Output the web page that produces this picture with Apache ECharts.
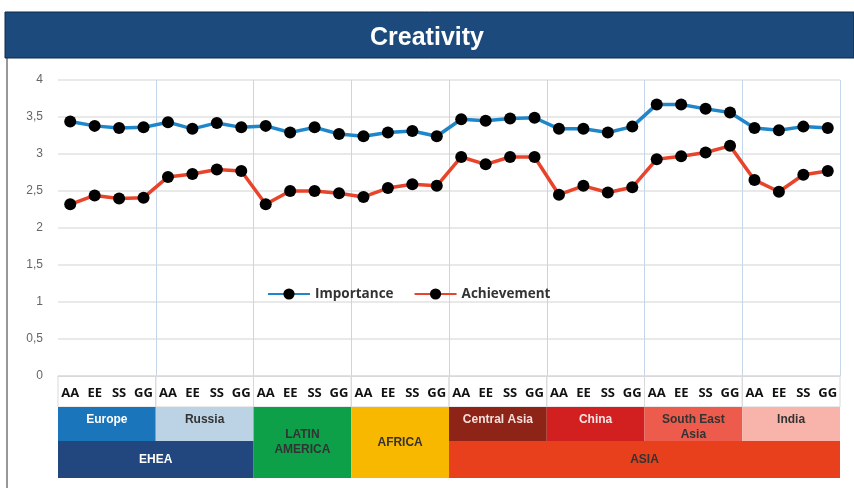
<!DOCTYPE html>
<html>
<head>
<meta charset="utf-8">
<script src="https://cdn.jsdelivr.net/npm/echarts@6/dist/echarts.min.js"></script>
<style>
  html, body { margin: 0; padding: 0; background: #fff; }
  #chart { width: 854px; height: 488px; }
</style>
</head>
<body>
<div id="chart"></div>
<script>
const categories = [
  'AA', 'EE', 'SS', 'GG', 'AA', 'EE', 'SS', 'GG',
  'AA', 'EE', 'SS', 'GG', 'AA', 'EE', 'SS', 'GG',
  'AA', 'EE', 'SS', 'GG', 'AA', 'EE', 'SS', 'GG',
  'AA', 'EE', 'SS', 'GG', 'AA', 'EE', 'SS', 'GG'
]
const importance = [
  3.44, 3.38, 3.35, 3.36, 3.43, 3.34, 3.42, 3.36,
  3.38, 3.29, 3.36, 3.27, 3.24, 3.29, 3.31, 3.24,
  3.47, 3.45, 3.48, 3.49, 3.34, 3.34, 3.29, 3.37,
  3.67, 3.67, 3.61, 3.56, 3.35, 3.32, 3.37, 3.35
]
const achievement = [
  2.32, 2.44, 2.40, 2.41, 2.69, 2.73, 2.79, 2.77,
  2.32, 2.50, 2.50, 2.47, 2.42, 2.54, 2.59, 2.57,
  2.96, 2.86, 2.96, 2.96, 2.45, 2.57, 2.48, 2.55,
  2.93, 2.97, 3.02, 3.11, 2.65, 2.49, 2.72, 2.77
]

// category table under the axis: [first index, last index, first row, last row]
const regionNames = ['Europe', 'Russia', 'LATIN\nAMERICA', 'AFRICA', 'Central Asia', 'China', 'South East\nAsia', 'India']
const regionSpans = [[0, 3, 1, 1], [4, 7, 1, 1], [8, 11, 1, 2], [12, 15, 1, 2], [16, 19, 1, 1], [20, 23, 1, 1], [24, 27, 1, 1], [28, 31, 1, 1]]
const areaNames = ['EHEA', 'ASIA']
const areaSpans = [[0, 7, 2, 2], [16, 31, 2, 2]]

const regionColors = ['#1b75bb', '#bcd3e6', '#0e9f49', '#f9b800', '#8e2417', '#d21f1f', '#ec5b4b', '#f8b3ab']
const regionText = ['#ffffff', '#333333', '#333333', '#333333', '#f4e0dc', '#f8e6e6', '#333333', '#333333']
const areaColors = ['#21477e', '#e8401d']
const areaText = ['#ffffff', '#333333']

// row edges of the table (axis units of the lower grid)
const rowEdges = [0, 0.91, 1.91, 3]

const cells = []
regionSpans.forEach((s) => cells.push({ span: [s[0], s[1], 0, 0], label: '', fill: 'rgba(0,0,0,0)', text: '#333', top: true }))
regionSpans.forEach((s, i) => cells.push({ span: s, label: regionNames[i], fill: regionColors[i], text: regionText[i], top: s[2] === s[3] }))
areaSpans.forEach((s, i) => cells.push({ span: s, label: areaNames[i], fill: areaColors[i], text: areaText[i], top: false }))

const chart = echarts.init(document.getElementById('chart'))

const renderCell = (params, api) => {
  const cell = cells[params.dataIndex]
  const bw = api.size([1, 0])[0]
  const p0 = api.coord([api.value(0), rowEdges[api.value(2)]])
  const p1 = api.coord([api.value(1), rowEdges[api.value(3) + 1]])
  const x = p0[0] - bw / 2
  const isLabelRow = cell.label === ''
  return {
    type: 'rect',
    shape: { x: x, y: p0[1], width: p1[0] + bw / 2 - x, height: p1[1] - p0[1] },
    style: isLabelRow
      ? { fill: 'rgba(0,0,0,0)', stroke: '#d9d9d9', lineWidth: 1 }
      : { fill: cell.fill },
    textContent: {
      style: {
        text: cell.label,
        fill: cell.text,
        font: 'bold 12px "Liberation Sans", Arial, sans-serif',
        align: 'center',
        lineHeight: 15
      }
    },
    textConfig: { position: cell.top ? 'insideTop' : 'inside', distance: 5 }
  }
}

const options = {
  animation: false,
  title: {
    text: 'Creativity',
    left: 'center',
    top: 21,
    textStyle: { color: '#fff', fontSize: 25, fontWeight: 'bold', fontFamily: '"Liberation Sans", Arial, sans-serif' }
  },
  graphic: [
    { type: 'rect', z: -1, shape: { x: 5, y: 12, width: 849, height: 46 }, style: { fill: '#1d4a7c', stroke: '#0f2a48', lineWidth: 1 } },
    { type: 'line', shape: { x1: 7, y1: 58, x2: 7, y2: 488 }, style: { stroke: '#333', lineWidth: 1 } }
  ],
  legend: {
    left: 262,
    top: 282,
    itemWidth: 42,
    itemHeight: 14,
    itemGap: 20,
    data: ['Importance', 'Achievement'],
    textStyle: { color: '#333', fontSize: 13.5, fontWeight: 'bold', fontFamily: '"Open Sans", sans-serif' }
  },
  grid: [
    { left: 58, right: 14, top: 80, bottom: 112 },
    { left: 58, right: 14, top: 376, bottom: 10 }
  ],
  xAxis: [
    {
      type: 'category',
      gridIndex: 0,
      data: categories,
      boundaryGap: true,
      axisLine: { lineStyle: { color: '#d9d9d9' } },
      axisTick: { show: false },
      axisLabel: { color: '#111', fontSize: 13, fontWeight: 'bold', fontFamily: '"Open Sans", sans-serif', margin: 11, interval: 0 },
      splitLine: {
        show: true,
        interval: (index) => index > 0 && index < categories.length && index % 4 === 0,
        lineStyle: { color: '#c6d6ea', width: 1 }
      }
    },
    {
      type: 'category',
      gridIndex: 1,
      data: categories,
      boundaryGap: true,
      show: false
    }
  ],
  yAxis: [
    {
      type: 'value',
      gridIndex: 0,
      min: 0,
      max: 4,
      interval: 0.5,
      axisLine: { show: false },
      axisTick: { show: false },
      axisLabel: {
        color: '#666',
        fontSize: 12,
        margin: 15,
        fontFamily: '"Liberation Sans", Arial, sans-serif',
        formatter: (v) => String(v).replace('.', ',')
      },
      splitLine: { lineStyle: { color: '#e2e2e2', width: 1.5 } }
    },
    { type: 'value', gridIndex: 1, min: 0, max: 3, inverse: true, show: false }
  ],
  series: [
    {
      name: 'Importance',
      type: 'line',
      xAxisIndex: 0,
      yAxisIndex: 0,
      data: importance,
      symbol: 'circle',
      symbolSize: 12,
      itemStyle: { color: '#000' },
      lineStyle: { color: '#1f87c9', width: 3.5 },
      z: 3
    },
    {
      name: 'Achievement',
      type: 'line',
      xAxisIndex: 0,
      yAxisIndex: 0,
      data: achievement,
      symbol: 'circle',
      symbolSize: 12,
      itemStyle: { color: '#000' },
      lineStyle: { color: '#e8442b', width: 3.5 },
      z: 3
    },
    {
      type: 'custom',
      xAxisIndex: 1,
      yAxisIndex: 1,
      renderItem: renderCell,
      encode: { x: [0, 1], y: [2, 3] },
      clip: false,
      silent: true,
      data: cells.map(c => c.span)
    }
  ]
}

chart.setOption(options)
</script>
</body>
</html>
